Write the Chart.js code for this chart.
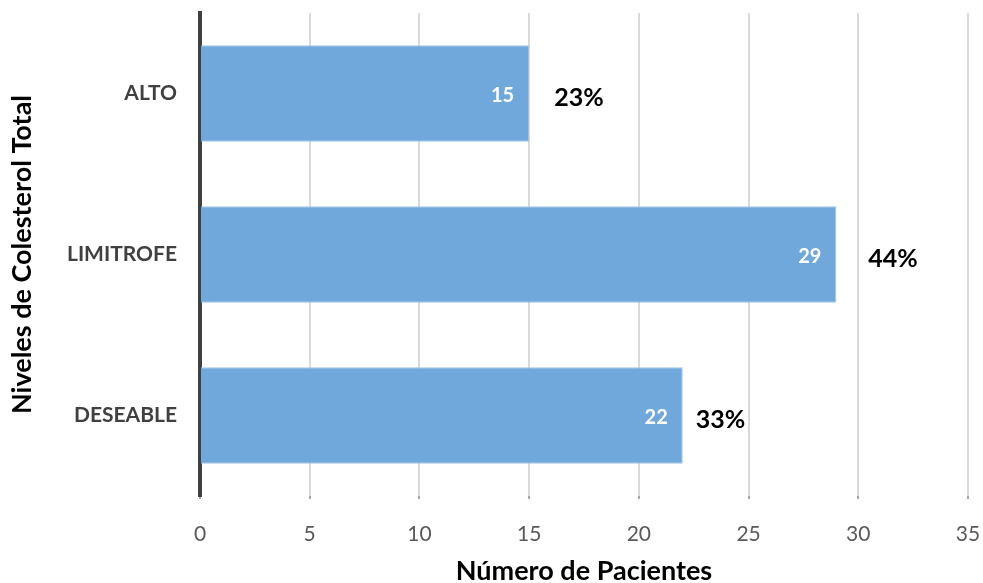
<!DOCTYPE html>
<html>
<head>
<meta charset="utf-8">
<script src="https://cdn.jsdelivr.net/npm/chart.js@4/dist/chart.umd.min.js"></script>
<style>
    html, body { margin: 0; padding: 0; background: #ffffff; }
    #wrap { width: 983px; height: 583px; }
</style>
</head>
<body>
<div id="wrap"><canvas id="cholChart"></canvas></div>
<script>
const levels = ['ALTO', 'LIMITROFE', 'DESEABLE'];
const patients = [15, 29, 22];
const percentLabels = ['23%', '44%', '33%'];
const xTicks = [0, 5, 10, 15, 20, 25, 30, 35];

// gap in px between bar end and the percentage text
const pctGap = [25, 32, 13];

const FONT = 'Lato, "Open Sans", sans-serif';

// white value inside the bar end, bold percentage after it
const barLabels = {
    id: 'barLabels',
    afterDatasetsDraw(chart) {
        const ctx = chart.ctx;
        const meta = chart.getDatasetMeta(0);
        ctx.save();
        ctx.textBaseline = 'middle';
        meta.data.forEach((bar, i) => {
            ctx.font = `bold 20px ${FONT}`;
            ctx.fillStyle = '#ffffff';
            ctx.textAlign = 'right';
            ctx.fillText(String(patients[i]), bar.x - 15, bar.y + 2);

            ctx.font = `bold 25px ${FONT}`;
            ctx.fillStyle = '#000000';
            ctx.textAlign = 'left';
            ctx.fillText(percentLabels[i], bar.x + pctGap[i], bar.y + 4);
        });
        ctx.restore();
    }
};

// keep the plot area fixed instead of letting labels push it in
function noPadding(scale) {
    scale.paddingLeft = 0;
    scale.paddingRight = 0;
    scale.paddingTop = 0;
    scale.paddingBottom = 0;
}

const ctx = document.getElementById('cholChart').getContext('2d');
new Chart(ctx, {
    type: 'bar',
    data: {
        labels: levels,
        datasets: [{
            data: patients,
            backgroundColor: '#70a8db',
            borderColor: '#9fc5e8',
            borderWidth: 1,
            borderSkipped: 'start',
            barPercentage: 0.6,
            categoryPercentage: 1
        }]
    },
    options: {
        indexAxis: 'y',
        responsive: true,
        maintainAspectRatio: false,
        animation: false,
        layout: { padding: { top: 13, right: 15, bottom: 0, left: 0 } },
        plugins: {
            legend: { display: false },
            tooltip: { enabled: false }
        },
        scales: {
            x: {
                min: 0,
                max: 35,
                afterBuildTicks: scale => {
                    scale.ticks = xTicks.map(v => ({ value: v }));
                },
                afterFit: scale => {
                    scale.height = 87;
                    noPadding(scale);
                },
                grid: {
                    color: '#d9d9d9',
                    lineWidth: 2,
                    tickLength: 3,
                    tickColor: '#a6a6a6'
                },
                border: { display: false },
                ticks: {
                    padding: 23,
                    color: '#595959',
                    font: { family: FONT, size: 21 }
                },
                title: {
                    display: true,
                    text: 'Número de Pacientes',
                    color: '#000000',
                    font: { family: FONT, size: 27, weight: 'bold', lineHeight: 1 },
                    padding: { top: 0, bottom: -2 }
                }
            },
            y: {
                afterFit: scale => {
                    scale.width = 200;
                    noPadding(scale);
                },
                grid: { display: false },
                border: { display: true, color: '#404040', width: 4 },
                ticks: {
                    padding: 15,
                    color: '#404040',
                    font: { family: FONT, size: 21, weight: 'bold' }
                },
                title: {
                    display: true,
                    text: 'Niveles de Colesterol Total',
                    color: '#000000',
                    font: { family: FONT, size: 27, weight: 'bold', lineHeight: 1 },
                    padding: { top: 9, bottom: 0 }
                }
            }
        }
    },
    plugins: [barLabels]
});
</script>
</body>
</html>
